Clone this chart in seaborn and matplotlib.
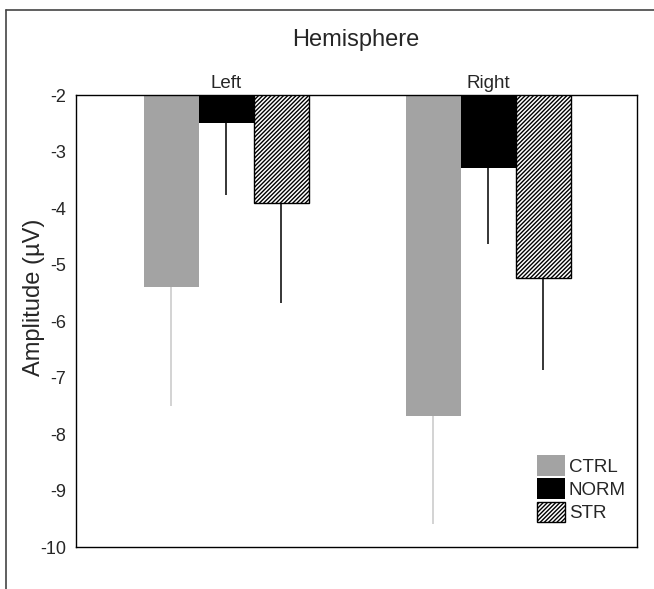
import matplotlib
matplotlib.use("Agg")
import matplotlib.pyplot as plt
from matplotlib.lines import Line2D
import pandas as pd
import seaborn as sns

hemispheres = ["Left", "Right"]
groups = ["CTRL", "NORM", "STR"]
means = {
    "CTRL": [-5.40, -7.69],
    "NORM": [-2.50, -3.30],
    "STR": [-3.91, -5.24],
}
errors = {
    "CTRL": [2.10, 1.91],
    "NORM": [1.27, 1.34],
    "STR": [1.77, 1.62],
}
yticks = [-2, -3, -4, -5, -6, -7, -8, -9, -10]

sns.set_theme(style="white")
plt.rcParams["font.family"] = ["Liberation Sans", "DejaVu Sans"]
plt.rcParams["hatch.linewidth"] = 1.0

rows = []
for g in groups:
    for h, m in zip(hemispheres, means[g]):
        rows.append({"hemisphere": h, "group": g, "amplitude": m})
frame = pd.DataFrame(rows)

palette = {"CTRL": "#a3a3a3", "NORM": "#000000", "STR": "#ffffff"}
err_colors = {"CTRL": "#c8c8c8", "NORM": "#000000", "STR": "#000000"}

fig = plt.figure(figsize=(6.54, 5.89), dpi=100)
ax = fig.add_axes([0.1162, 0.0713, 0.8578, 0.7674])

sns.barplot(data=frame, x="hemisphere", y="amplitude", hue="group",
            order=hemispheres, hue_order=groups, palette=palette,
            errorbar=None, width=0.63, linewidth=0, saturation=1, ax=ax)

for g, container in zip(groups, ax.containers):
    for bar, m, e in zip(container.patches, means[g], errors[g]):
        if g == "STR":
            bar.set_hatch("////////")
            bar.set_edgecolor("black")
            bar.set_linewidth(1.0)
        x = bar.get_x() + bar.get_width() / 2
        ax.vlines(x, m, m - e, color=err_colors[g], linewidth=1.1, zorder=1)

ax.set_ylim(-10, -2)
ax.set_xlim(-0.573, 1.568)
ax.set_yticks(yticks)
ax.set_yticklabels([str(t) for t in yticks], fontsize=13)
ax.xaxis.tick_top()
ax.tick_params(axis="x", labelsize=13.5, length=0, pad=2)
ax.tick_params(axis="y", length=0, pad=7)
ax.set_xlabel("")
ax.set_ylabel("")
for side in ["top", "bottom", "left", "right"]:
    ax.spines[side].set_visible(True)
    ax.spines[side].set_color("black")
    ax.spines[side].set_linewidth(1.0)

handles, labels = ax.get_legend_handles_labels()
leg = ax.legend(handles, labels, loc="lower right", frameon=False, fontsize=13.5,
                handlelength=1.5, handleheight=1.3, handletextpad=0.2,
                labelspacing=0.15, borderaxespad=0.2, bbox_to_anchor=(1.0, 0.03))
for h, g in zip(leg.legend_handles, groups):
    if g == "STR":
        h.set_hatch("////////")
        h.set_edgecolor("black")
        h.set_linewidth(1.0)

fig.text(356 / 654, 1 - 40 / 589, "Hemisphere", ha="center", va="center", fontsize=17)
fig.text(34 / 654, 1 - 297 / 589, "Amplitude (\u00b5V)", ha="center", va="center",
         rotation=90, fontsize=17)

# outer frame of the original figure panel
fig.add_artist(Line2D([6 / 654, 1.0], [1 - 10 / 589, 1 - 10 / 589],
                      transform=fig.transFigure, color="#444444", linewidth=1.2))
fig.add_artist(Line2D([6 / 654, 6 / 654], [0.0, 1 - 10 / 589],
                      transform=fig.transFigure, color="#444444", linewidth=1.2))

fig.savefig("out.png", dpi=100)
